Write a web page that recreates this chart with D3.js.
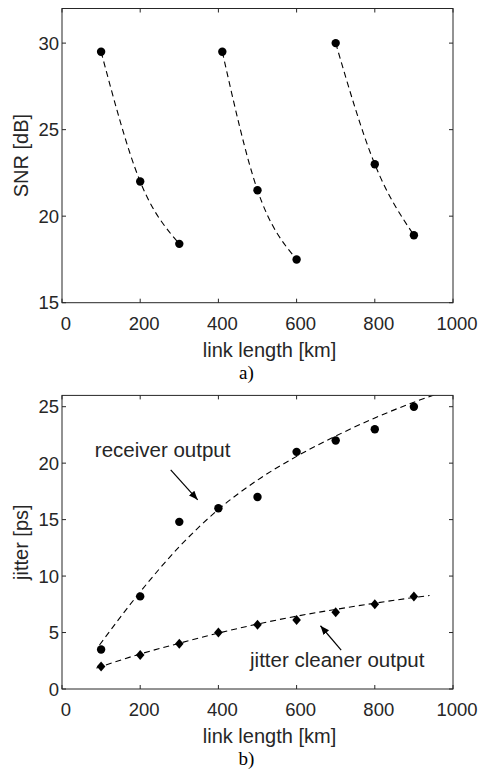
<!DOCTYPE html>
<html>
<head>
<meta charset="utf-8">
<script src="https://cdn.jsdelivr.net/npm/d3@7"></script>
<style>
  body { margin: 0; background: #fff; }
  text { font-family: "Liberation Sans", Arial, sans-serif; fill: #262626; }
</style>
</head>
<body>
<section></section>
<script>
//Link lengths used in both plots
const linkLength = [100, 200, 300, 400, 500, 600, 700, 800, 900];

//Top plot: SNR for the three spans
const snrGroups = [
    [{x: 100, y: 29.5}, {x: 200, y: 22.0}, {x: 300, y: 18.4}],
    [{x: 410, y: 29.5}, {x: 500, y: 21.5}, {x: 600, y: 17.5}],
    [{x: 700, y: 30.0}, {x: 800, y: 23.0}, {x: 900, y: 18.9}]
];

//Bottom plot: jitter values
const receiverJitter = [3.5, 8.2, 14.8, 16.0, 17.0, 21.0, 22.0, 23.0, 25.0];
const cleanerJitter = [2.0, 3.0, 4.0, 5.0, 5.7, 6.1, 6.8, 7.5, 8.2];

//Fitted trend lines
const receiverFitX = [96, 200, 300, 400, 500, 600, 700, 800, 900, 1000];
const receiverFitY = [3.9, 8.6, 12.6, 15.9, 18.5, 20.6, 22.4, 24.0, 25.4, 26.6];
const cleanerFitX = [88, 200, 300, 400, 500, 600, 700, 800, 900, 940];
const cleanerFitY = [1.85, 3.1, 4.05, 4.95, 5.75, 6.45, 7.05, 7.6, 8.1, 8.28];

//Tick labels
const xTicks = [0, 200, 400, 600, 800, 1000];
const snrTicks = [15, 20, 25, 30];
const jitterTicks = [0, 5, 10, 15, 20, 25];

const width = 480;
const height = 774;

let svg = d3
    .select("section")
    .append("svg")
    .attr("width", width)
    .attr("height", height);

//Arrow head for the annotations
svg.append("defs")
    .append("marker")
    .attr("id", "arrow")
    .attr("viewBox", "0 0 10 10")
    .attr("refX", 10)
    .attr("refY", 5)
    .attr("markerWidth", 9)
    .attr("markerHeight", 9)
    .attr("markerUnits", "userSpaceOnUse")
    .attr("orient", "auto")
    .append("path")
    .attr("d", "M0,1 L10,5 L0,9 Z")
    .attr("fill", "#000");

//Draws a boxed axes like the original figure
function drawAxes(g, x, y, yTicks, xLabel, yLabel, caption) {
    const [x0, x1] = x.range();
    const [y0, y1] = y.range();
    const mid = (x0 + x1) / 2;

    g.append("rect")
        .attr("x", x0)
        .attr("y", y1)
        .attr("width", x1 - x0)
        .attr("height", y0 - y1)
        .attr("fill", "none")
        .attr("stroke", "#262626")
        .attr("stroke-width", 1);

    //Ticks on all four sides, pointing inwards
    xTicks.forEach(function (t) {
        g.append("line").attr("x1", x(t)).attr("x2", x(t)).attr("y1", y0).attr("y2", y0 - 4).attr("stroke", "#262626");
        g.append("line").attr("x1", x(t)).attr("x2", x(t)).attr("y1", y1).attr("y2", y1 + 4).attr("stroke", "#262626");
        g.append("text")
            .attr("x", x(t) + 4)
            .attr("y", y0 + 27)
            .attr("text-anchor", "middle")
            .attr("font-size", "18.5px")
            .text(t);
    });

    yTicks.forEach(function (t) {
        g.append("line").attr("x1", x0).attr("x2", x0 + 4).attr("y1", y(t)).attr("y2", y(t)).attr("stroke", "#262626");
        g.append("line").attr("x1", x1).attr("x2", x1 - 4).attr("y1", y(t)).attr("y2", y(t)).attr("stroke", "#262626");
        g.append("text")
            .attr("x", x0 - 3)
            .attr("y", y(t))
            .attr("dy", "0.36em")
            .attr("text-anchor", "end")
            .attr("font-size", "18.5px")
            .text(t);
    });

    g.append("text")
        .attr("x", mid + 12)
        .attr("y", y0 + 54)
        .attr("text-anchor", "middle")
        .attr("font-size", "20px")
        .text(xLabel);

    g.append("text")
        .attr("transform", `translate(28,${(y0 + y1) / 2}) rotate(-90)`)
        .attr("text-anchor", "middle")
        .attr("font-size", "20px")
        .text(yLabel);

    g.append("text")
        .attr("x", mid - 11)
        .attr("y", y0 + 76)
        .attr("text-anchor", "middle")
        .attr("font-size", "19px")
        .style("font-family", "'Liberation Serif', 'Times New Roman', serif")
        .style("fill", "#000")
        .text(caption);
}

//Diamond marker path
function diamond(cx, cy) {
    return `M${cx},${cy - 5} L${cx + 4.3},${cy} L${cx},${cy + 5} L${cx - 4.3},${cy} Z`;
}

// ---------- Plot a) ----------
const xTop = d3.scaleLinear().domain([0, 1000]).range([62, 453]);
const yTop = d3.scaleLinear().domain([15, 32]).range([302.7, 8.5]);

const topPlot = svg.append("g");

const snrLine = d3.line()
    .x(d => xTop(d.x))
    .y(d => yTop(d.y))
    .curve(d3.curveMonotoneX);

topPlot.selectAll(".snr-line")
    .data(snrGroups)
    .enter()
    .append("path")
    .attr("d", snrLine)
    .attr("fill", "none")
    .attr("stroke", "#000")
    .attr("stroke-width", 1.1)
    .attr("stroke-dasharray", "6,4");

topPlot.selectAll(".snr-dot")
    .data(snrGroups.flat())
    .enter()
    .append("circle")
    .attr("cx", d => xTop(d.x))
    .attr("cy", d => yTop(d.y))
    .attr("r", 4.2)
    .attr("fill", "#000");

drawAxes(topPlot, xTop, yTop, snrTicks, "link length [km]", "SNR [dB]", "a)");

// ---------- Plot b) ----------
const xBot = d3.scaleLinear().domain([0, 1000]).range([62, 453]);
const yBot = d3.scaleLinear().domain([0, 26]).range([689, 395.4]);

const bottomPlot = svg.append("g");

bottomPlot.append("clipPath")
    .attr("id", "clipB")
    .append("rect")
    .attr("x", 62)
    .attr("y", 395.4)
    .attr("width", 391)
    .attr("height", 293.6);

const fitLine = d3.line()
    .x(d => xBot(d[0]))
    .y(d => yBot(d[1]))
    .curve(d3.curveMonotoneX);

bottomPlot.append("path")
    .attr("d", fitLine(d3.zip(receiverFitX, receiverFitY)))
    .attr("clip-path", "url(#clipB)")
    .attr("fill", "none")
    .attr("stroke", "#000")
    .attr("stroke-width", 1.1)
    .attr("stroke-dasharray", "6,4");

bottomPlot.append("path")
    .attr("d", fitLine(d3.zip(cleanerFitX, cleanerFitY)))
    .attr("fill", "none")
    .attr("stroke", "#000")
    .attr("stroke-width", 1.1)
    .attr("stroke-dasharray", "6,4");

bottomPlot.selectAll(".rx-dot")
    .data(d3.zip(linkLength, receiverJitter))
    .enter()
    .append("circle")
    .attr("cx", d => xBot(d[0]))
    .attr("cy", d => yBot(d[1]))
    .attr("r", 4.2)
    .attr("fill", "#000");

bottomPlot.selectAll(".cl-dot")
    .data(d3.zip(linkLength, cleanerJitter))
    .enter()
    .append("path")
    .attr("d", d => diamond(xBot(d[0]), yBot(d[1])))
    .attr("fill", "#000");

//Annotations with arrows (data coordinates)
const notes = [
    {text: "receiver output", tx: 84, ty: 20.55, ax1: 278, ay1: 19.4, ax2: 347, ay2: 16.75},
    {text: "jitter cleaner output", tx: 481, ty: 1.95, ax1: 714, ay1: 3.45, ax2: 661, ay2: 5.6}
];

notes.forEach(function (n) {
    bottomPlot.append("text")
        .attr("x", xBot(n.tx))
        .attr("y", yBot(n.ty))
        .attr("font-size", "20.5px")
        .text(n.text);

    bottomPlot.append("line")
        .attr("x1", xBot(n.ax1))
        .attr("y1", yBot(n.ay1))
        .attr("x2", xBot(n.ax2))
        .attr("y2", yBot(n.ay2))
        .attr("stroke", "#000")
        .attr("stroke-width", 1.2)
        .attr("marker-end", "url(#arrow)");
});

drawAxes(bottomPlot, xBot, yBot, jitterTicks, "link length [km]", "jitter [ps]", "b)");
</script>
</body>
</html>
